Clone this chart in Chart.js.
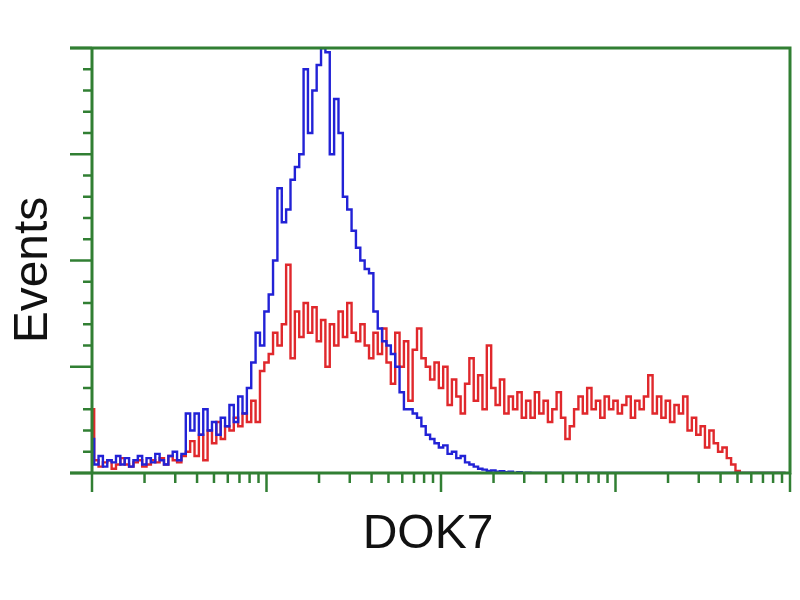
<!DOCTYPE html>
<html>
<head>
<meta charset="utf-8">
<script src="https://cdn.jsdelivr.net/npm/chart.js@4.4.1/dist/chart.umd.min.js"></script>
<style>
    html, body { margin: 0; padding: 0; background: #fff; }
    #wrap { width: 800px; height: 600px; }
</style>
</head>
<body>
<div id="wrap"><canvas id="histChart" width="800" height="600"></canvas></div>
<script>
// Histogram data: counts per channel (160 channels over 4 log decades, 40 per decade)
const blueCounts = [
    8,
    2, 4, 1.5, 3, 2.5, 4, 2, 3.5, 1.5, 3, 4, 2, 3.5, 2.5, 4.5, 3, 2, 4, 5, 3, 4.5,
    14, 10, 14, 9, 15, 10, 12, 9, 13, 11, 16, 12, 18, 14, 20, 26, 33, 30, 38, 42,
    50, 67, 59, 62, 69, 72, 75, 95, 80, 90, 96, 100, 99, 75, 88, 80, 65, 62, 57, 53,
    50, 48, 47, 38, 34, 31, 30, 28, 25, 19, 15, 15, 14, 13, 11, 9, 8, 7, 6, 6.5,
    4.5, 5, 3.5, 4, 2.5, 2, 1.5, 1, 0.8, 0.5, 0.6, 0.3, 0.4, 0.2, 0.3, 0, 0.2, 0, 0.1, 0,
    0, 0, 0, 0, 0, 0, 0, 0, 0, 0, 0, 0, 0, 0, 0, 0, 0, 0, 0, 0,
    0, 0, 0, 0, 0, 0, 0, 0, 0, 0, 0, 0, 0, 0, 0, 0, 0, 0, 0, 0,
    0, 0, 0, 0, 0, 0, 0, 0, 0, 0, 0, 0, 0, 0, 0, 0, 0, 0
];

const redCounts = [
    15,
    3, 1.5, 2.5, 3, 1, 2, 3.5, 2, 1.5, 2.5, 3, 1.5, 2, 3, 2.5, 3.5, 2, 4, 3, 2.5, 4,
    5, 7.5, 4, 9, 3, 10, 7, 12, 8, 11, 10, 13, 11, 14, 12, 17, 12, 24, 26, 28,
    33, 30, 35, 49, 27, 38, 32, 40, 33, 39, 31, 36, 25, 35, 30, 38, 32, 40, 33, 31,
    35, 30, 27, 33, 28, 34, 26, 21, 33, 25, 31, 17, 29, 34, 27, 25, 22, 26, 20, 25,
    16, 22, 18, 14, 21, 27, 17, 23, 15, 30, 20, 16, 22, 14, 18, 15, 19, 13, 17, 13,
    19, 14, 17, 12, 15, 19, 13, 8, 11, 15, 18, 14, 20, 15, 17, 13, 18, 15, 17, 14,
    16, 18, 13, 17, 15, 18, 23, 14, 18, 13, 17, 12, 16, 14, 18, 10, 13, 9, 11, 6,
    10, 7, 5, 6, 3.5, 2, 0.5, 0, 0, 0, 0, 0, 0, 0, 0, 0, 0, 0
];

// Axis ticks
const yMajorTicks = [0, 25, 50, 75, 100];
const yMinorTicks = [5, 10, 15, 20, 30, 35, 40, 45, 55, 60, 65, 70, 80, 85, 90, 95];
const xDecades = [0, 1, 2, 3, 4];
const xMinorSteps = [2, 3, 4, 5, 6, 7, 8, 9];
const channelsPerDecade = 40;

const xTitle = 'DOK7';
const yTitle = 'Events';

const axisGreen = '#317f33';

const toPoints = arr => arr.map((v, i) => ({ x: i, y: v }));

// Draws the green frame, the log/linear tick marks and the axis titles
const framePlugin = {
    id: 'frame',
    afterDatasetsDraw(chart) {
        const { ctx, chartArea: a, scales: { x, y } } = chart;
        ctx.save();
        ctx.strokeStyle = axisGreen;
        ctx.lineCap = 'butt';

        // y ticks
        ctx.lineWidth = 2.5;
        yMajorTicks.forEach(v => {
            const py = y.getPixelForValue(v);
            ctx.beginPath(); ctx.moveTo(a.left - 22, py); ctx.lineTo(a.left, py); ctx.stroke();
        });
        yMinorTicks.forEach(v => {
            const py = y.getPixelForValue(v);
            ctx.beginPath(); ctx.moveTo(a.left - 9, py); ctx.lineTo(a.left, py); ctx.stroke();
        });

        // x ticks (log decades)
        xDecades.forEach(d => {
            const px = x.getPixelForValue(d * channelsPerDecade);
            ctx.beginPath(); ctx.moveTo(px, a.bottom); ctx.lineTo(px, a.bottom + 19); ctx.stroke();
            if (d < xDecades.length - 1) {
                xMinorSteps.forEach(k => {
                    const mx = x.getPixelForValue((d + Math.log10(k)) * channelsPerDecade);
                    ctx.beginPath(); ctx.moveTo(mx, a.bottom); ctx.lineTo(mx, a.bottom + 10); ctx.stroke();
                });
            }
        });

        // frame
        ctx.lineWidth = 3;
        ctx.beginPath();
        ctx.moveTo(a.left, a.top - 1.5);
        ctx.lineTo(a.left, a.bottom + 1.5);
        ctx.moveTo(a.right, a.top - 1.5);
        ctx.lineTo(a.right, a.bottom + 1.5);
        ctx.moveTo(a.left - 22, a.top);
        ctx.lineTo(a.right + 1.5, a.top);
        ctx.moveTo(a.left - 22, a.bottom);
        ctx.lineTo(a.right + 1.5, a.bottom);
        ctx.stroke();

        // titles
        ctx.fillStyle = '#111';
        ctx.font = '48px "Liberation Sans", Arial, sans-serif';
        ctx.textAlign = 'center';
        ctx.textBaseline = 'alphabetic';
        ctx.fillText(xTitle, 428, 548);

        ctx.translate(47, 270);
        ctx.rotate(-Math.PI / 2);
        ctx.fillText(yTitle, 0, 0);
        ctx.restore();
    }
};

document.addEventListener('DOMContentLoaded', () => {
    const ctx = document.getElementById('histChart').getContext('2d');

    new Chart(ctx, {
        type: 'line',
        data: {
            datasets: [{
                label: 'Control',
                data: toPoints(blueCounts),
                borderColor: '#2222d6',
                borderWidth: 2.4,
                pointRadius: 0,
                stepped: 'middle',
                fill: false
            }, {
                label: 'DOK7',
                data: toPoints(redCounts),
                borderColor: '#e0282c',
                borderWidth: 2.4,
                pointRadius: 0,
                stepped: 'middle',
                fill: false
            }]
        },
        options: {
            responsive: false,
            animation: false,
            layout: {
                padding: { left: 92, top: 48, right: 10, bottom: 127 }
            },
            plugins: {
                legend: { display: false },
                tooltip: { enabled: false }
            },
            scales: {
                x: { type: 'linear', display: false, min: 0, max: 160 },
                y: { type: 'linear', display: false, min: 0, max: 100 }
            }
        },
        plugins: [framePlugin]
    });
});
</script>
</body>
</html>
